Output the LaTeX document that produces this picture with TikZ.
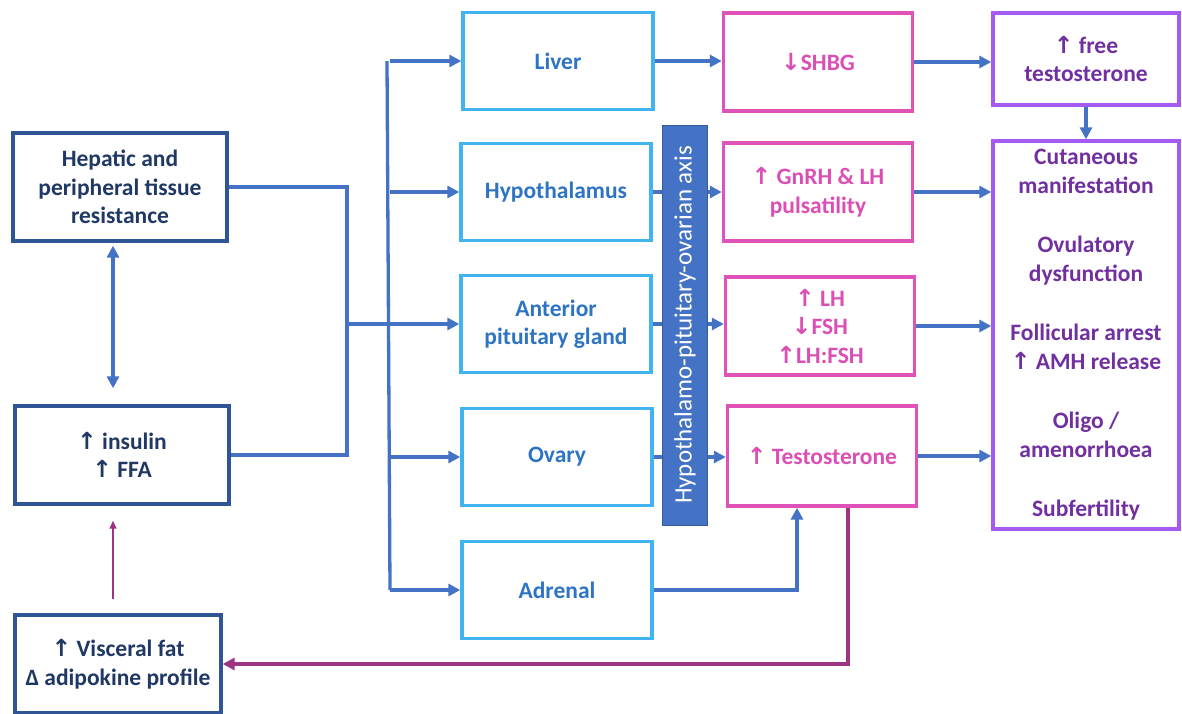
\documentclass[tikz,border=0pt]{standalone}
\usepackage{fontspec}
\setmainfont{Carlito}
\newfontfamily\symfont{DejaVu Sans}
\usetikzlibrary{positioning,arrows.meta}
\definecolor{hostBorder}{HTML}{2F5597}
\definecolor{hostText}{HTML}{1F3864}
\definecolor{organBorder}{HTML}{41B3EE}
\definecolor{organText}{HTML}{2E74C4}
\definecolor{axisFill}{HTML}{4472C4}
\definecolor{hormoneBorder}{HTML}{DF52B9}
\definecolor{hormoneText}{HTML}{DB4FB4}
\definecolor{outcomeBorder}{HTML}{A65AF4}
\definecolor{outcomeText}{HTML}{7030A0}
\definecolor{linkBlue}{HTML}{4472C4}
\definecolor{feedbackPurple}{HTML}{9E3583}
\newcommand{\upar}{{\symfont\bfseries ↑}}
\newcommand{\downar}{{\symfont\bfseries ↓}}

\begin{document}
\begin{tikzpicture}[
    x=1pt, y=-1pt,
    block/.style={
        rectangle, draw, fill=white,
        inner sep=2pt,
        align=center, text centered,
        line width=3.4pt,
        font=\fontsize{23.5}{28.5}\selectfont\bfseries
    },
    host/.style={block, draw=hostBorder, text=hostText, minimum width=214pt},
    organ/.style={block, draw=organBorder, text=organText, minimum width=190pt, minimum height=97pt},
    hormone/.style={block, draw=hormoneBorder, text=hormoneText, minimum width=189pt, minimum height=98pt},
    outcome/.style={block, draw=outcomeBorder, text=outcomeText, minimum width=186pt},
    link/.style={draw=linkBlue, line width=3.3pt},
    arrow/.style={link, -{Triangle[length=12pt, width=12pt]}},
    feedback/.style={draw=feedbackPurple, line width=3.8pt, -{Triangle[length=12pt, width=12pt]}}
]
  \useasboundingbox (0,0) rectangle (1182,713);

  % Left Side nodes
  \node[host, minimum height=108pt] (hepatic) at (120,187) {Hepatic and\\peripheral tissue\\resistance};
  \node[host, minimum height=98pt] (insulin) at (122,455) {\upar{} insulin\\\upar{} FFA};
  \node[host, minimum width=206pt, minimum height=98pt] (visceral) at (118,664) {\upar{} Visceral fat\\Δ adipokine profile};

  % Target organ column
  \node[organ] (liver) at (558,61) {Liver};
  \node[organ] (hypo) at (556,192) {Hypothalamus};
  \node[organ] (pituitary) at (556,324) {Anterior\\pituitary gland};
  \node[organ] (ovary) at (557,457) {Ovary};
  \node[organ] (adrenal) at (557,590) {Adrenal};

  % Axis bar
  \node[draw=axisFill!80!black, fill=axisFill, line width=0.8pt, minimum width=45pt, minimum height=400pt] (axis) at (685,325) {};
  \node[rotate=90, text=white, font=\fontsize{25}{28}\selectfont] (axislabel) at (axis.center) {Hypothalamo-pituitary-ovarian axis};

  % Hormone column
  \node[hormone] (shbg) at (818,62) {\downar SHBG};
  \node[hormone] (gnrh) at (818,192) {\upar{} GnRH \& LH\\pulsatility};
  \node[hormone] (lhfsh) at (820,326) {\upar{} LH\\\downar FSH\\\upar LH:FSH};
  \node[hormone, minimum height=100pt] (testo) at (822,456) {\upar{} Testosterone};

  % Outcome column
  \node[outcome, minimum height=92pt] (freet) at (1086,59) {\upar{} free\\testosterone};
  \node[outcome, minimum height=388pt] (clinical) at (1086,335)
      {Cutaneous\\manifestation\\[31pt]Ovulatory\\dysfunction\\[31pt]Follicular arrest\\\upar{} AMH release\\[31pt]Oligo /\\amenorrhoea\\[31pt]Subfertility};

  % Bus points
  \coordinate (join) at (347,324);
  \coordinate (trunk) at (390,0);
  \coordinate (adrIn) at ([xshift=-25pt]testo.south);
  \coordinate (fbOut) at ([xshift=26pt]testo.south);

  % Hepatic and insulin into the joint
  \draw[link] (hepatic.east) -| (join) |- (insulin.east);
  \draw[draw=linkBlue, line width=3.3pt, {Triangle[length=12pt, width=12pt]}-{Triangle[length=12pt, width=12pt]}, shorten <=3pt, shorten >=16pt]
      ([xshift=-7pt]hepatic.south) -- ([xshift=-7pt]hepatic.south |- insulin.north);
  \draw[draw=feedbackPurple, line width=1.6pt, -{Triangle[length=8pt, width=7pt]}, shorten <=14pt, shorten >=15pt]
      ([xshift=-5pt]visceral.north) -- ([xshift=-5pt]visceral.north |- insulin.south);

  % Distribution trunk
  \draw[link] ([xshift=-3pt]trunk |- liver.west) -- (trunk |- adrenal.west);
  \draw[arrow] (join) -- (pituitary.west);
  \draw[arrow] (trunk |- liver.west) -- (liver.west);
  \draw[arrow] (trunk |- hypo.west) -- (hypo.west);
  \draw[arrow] (trunk |- ovary.west) -- (ovary.west);
  \draw[arrow] (trunk |- adrenal.west) -- (adrenal.west);

  % Organs through the axis
  \draw[arrow] (liver.east) -- (liver.east -| shbg.west);
  \draw[link] (hypo.east) -- (hypo.east -| axis.west);
  \draw[arrow] (hypo.east -| axis.east) -- (hypo.east -| gnrh.west);
  \draw[link] (pituitary.east) -- (pituitary.east -| axis.west);
  \draw[arrow] (pituitary.east -| axis.east) -- (pituitary.east -| lhfsh.west);
  \draw[link] (ovary.east) -- (ovary.east -| axis.west);
  \draw[arrow] (ovary.east -| axis.east) -- (ovary.east -| testo.west);
  \draw[arrow] (adrenal.east) -| (adrIn);

  % Hormones to outcomes
  \draw[arrow] (shbg.east) -- (shbg.east -| freet.west);
  \draw[arrow] (freet.south) -- (freet.south |- clinical.north);
  \draw[arrow] (gnrh.east) -- (gnrh.east -| clinical.west);
  \draw[arrow] (lhfsh.east) -- (lhfsh.east -| clinical.west);
  \draw[arrow] (testo.east) -- (testo.east -| clinical.west);

  % Feedback loop to visceral fat
  \draw[feedback] (fbOut) |- (visceral.east);

\end{tikzpicture}
\end{document}
